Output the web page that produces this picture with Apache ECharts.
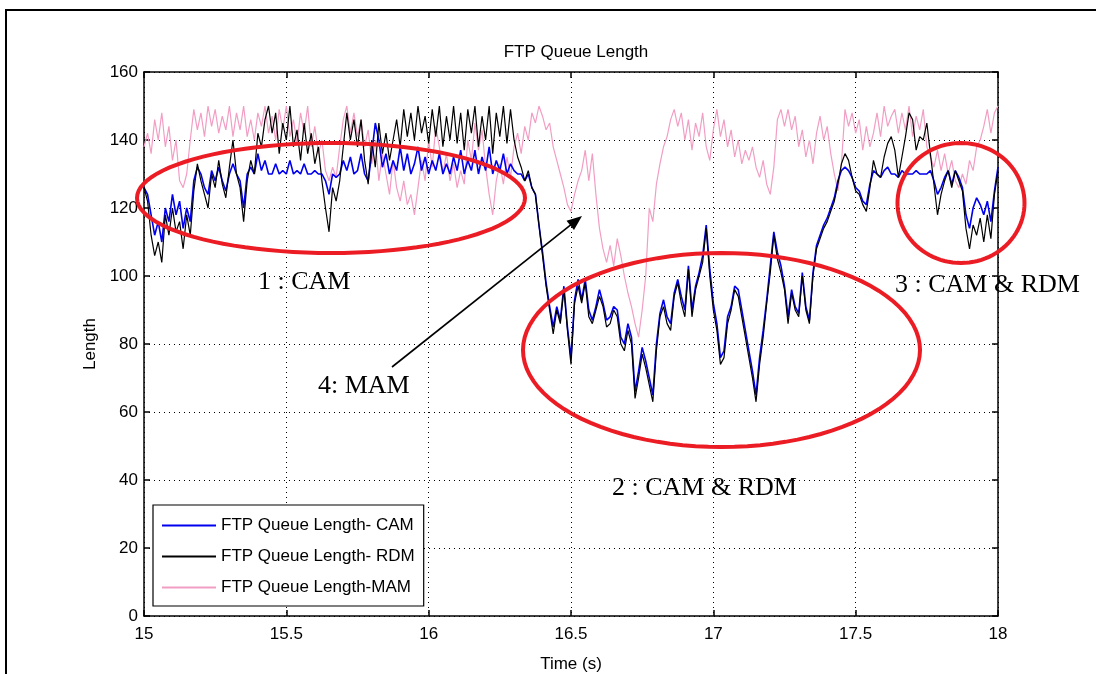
<!DOCTYPE html>
<html><head><meta charset="utf-8">
<script src="https://cdn.jsdelivr.net/npm/echarts@6/dist/echarts.min.js"></script>
<style>html,body{margin:0;padding:0;background:#fff}#c{width:1096px;height:674px}</style>
</head><body><div id="c"></div><script>
// ---- data ----
const times = [
 15,15.0125,15.025,15.0375,15.05,15.0625,15.075,15.0875,
 15.1,15.1125,15.125,15.1375,15.15,15.1625,15.175,15.1875,
 15.2,15.2125,15.225,15.2375,15.25,15.2625,15.275,15.2875,
 15.3,15.3125,15.325,15.3375,15.35,15.3625,15.375,15.3875,
 15.4,15.4125,15.425,15.4375,15.45,15.4625,15.475,15.4875,
 15.5,15.5125,15.525,15.5375,15.55,15.5625,15.575,15.5875,
 15.6,15.6125,15.625,15.6375,15.65,15.6625,15.675,15.6875,
 15.7,15.7125,15.725,15.7375,15.75,15.7625,15.775,15.7875,
 15.8,15.8125,15.825,15.8375,15.85,15.8625,15.875,15.8875,
 15.9,15.9125,15.925,15.9375,15.95,15.9625,15.975,15.9875,
 16,16.0125,16.025,16.0375,16.05,16.0625,16.075,16.0875,
 16.1,16.1125,16.125,16.1375,16.15,16.1625,16.175,16.1875,
 16.2,16.2125,16.225,16.2375,16.25,16.2625,16.275,16.2875,
 16.3,16.3125,16.325,16.3375,16.35,16.3625,16.375,16.3875,
 16.4,16.4125,16.425,16.4375,16.45,16.4625,16.475,16.4875,
 16.5,16.5125,16.525,16.5375,16.55,16.5625,16.575,16.5875,
 16.6,16.6125,16.625,16.6375,16.65,16.6625,16.675,16.6875,
 16.7,16.7125,16.725,16.7375,16.75,16.7625,16.775,16.7875,
 16.8,16.8125,16.825,16.8375,16.85,16.8625,16.875,16.8875,
 16.9,16.9125,16.925,16.9375,16.95,16.9625,16.975,16.9875,
 17,17.0125,17.025,17.0375,17.05,17.0625,17.075,17.0875,
 17.1,17.1125,17.125,17.1375,17.15,17.1625,17.175,17.1875,
 17.2,17.2125,17.225,17.2375,17.25,17.2625,17.275,17.2875,
 17.3,17.3125,17.325,17.3375,17.35,17.3625,17.375,17.3875,
 17.4,17.4125,17.425,17.4375,17.45,17.4625,17.475,17.4875,
 17.5,17.5125,17.525,17.5375,17.55,17.5625,17.575,17.5875,
 17.6,17.6125,17.625,17.6375,17.65,17.6625,17.675,17.6875,
 17.7,17.7125,17.725,17.7375,17.75,17.7625,17.775,17.7875,
 17.8,17.8125,17.825,17.8375,17.85,17.8625,17.875,17.8875,
 17.9,17.9125,17.925,17.9375,17.95,17.9625,17.975,17.9875,
 18];
const camValues = [
 126,124,118,112,116,110,120,116,124,118, 122,114,120,116,128,132,130,126,124,131,
 128,132,128,125,130,133,130,128,120,130, 132,130,136,131,134,130,130,133,130,131,
 130,134,130,131,130,133,130,130,131,130, 130,128,124,130,129,130,134,131,135,130,
 131,136,130,128,136,145,140,132,136,130, 134,131,138,131,136,130,133,138,131,135,
 130,134,131,136,130,133,130,135,131,137, 130,134,131,137,130,135,131,138,130,134,
 131,136,130,133,131,130,130,128,130,126, 124,115,107,98,91,85,91,87,97,85,
 76,93,99,93,99,90,87,91,96,92, 87,88,91,90,82,80,86,82,66,72,
 79,75,70,65,80,89,93,88,86,95, 99,94,90,103,90,97,101,106,115,102,
 92,86,76,78,88,91,97,96,90,84, 78,72,65,76,84,93,103,113,107,103,
 97,88,96,91,89,101,91,87,101,109, 112,115,117,120,123,128,131,132,131,129,
 126,125,122,121,127,131,130,129,131,132, 130,130,129,131,130,130,130,131,130,130,
 130,131,128,124,126,129,131,127,131,129, 126,118,114,120,123,121,118,122,116,125,
 132];
const rdmValues = [
 126,122,112,106,110,104,118,112,120,113, 116,108,118,112,125,133,128,124,120,130,
 126,134,127,123,132,140,130,126,116,128, 134,130,142,138,146,150,142,148,136,145,
 140,150,138,143,134,145,136,142,133,138, 128,120,113,126,122,128,138,148,140,146,
 138,146,134,127,140,132,145,136,142,134, 140,146,138,149,141,148,140,150,142,147,
 139,149,141,150,138,147,140,150,139,148, 137,149,142,150,138,147,140,150,136,148,
 141,150,139,149,140,135,132,128,131,126, 124,115,106,97,90,83,90,86,96,84,
 74,92,97,92,98,88,86,90,94,91, 85,86,90,88,80,78,84,80,64,70,
 77,73,68,63,78,88,91,86,84,94, 98,92,88,102,88,96,100,104,114,100,
 90,84,74,76,86,90,96,94,88,82, 76,70,63,74,82,92,101,112,105,101,
 96,86,95,90,88,100,90,86,100,108, 111,114,116,119,122,127,133,136,134,129,
 125,124,121,119,126,134,130,129,135,139, 141,137,129,135,141,148,146,137,141,140,
 145,136,127,118,124,128,131,126,131,128, 125,114,108,115,112,117,110,118,111,124,
 131];
const mamValues = [
 138,142,136,146,140,148,138,144,134,140, 128,126,130,140,149,143,148,141,150,144,
 149,142,147,143,150,141,148,143,150,141, 146,140,148,144,150,142,147,140,149,143,
 150,141,146,139,148,142,150,138,144,136, 140,131,128,132,129,138,146,150,142,148,
 141,146,138,143,133,140,128,136,130,124, 134,126,122,128,121,124,118,126,134,128,
 140,132,144,138,130,136,128,133,126,131, 127,140,134,145,137,143,132,124,118,128,
 133,127,135,129,138,142,136,144,140,148, 145,150,147,143,145,138,134,130,126,121,
 119,124,128,131,137,128,136,124,114,108, 104,109,103,111,106,100,95,91,86,82,
 90,100,120,116,127,133,138,141,146,149, 144,148,140,146,137,145,141,148,138,134,
 143,149,141,146,138,143,135,140,133,137, 134,138,132,129,134,127,124,132,146,149,
 144,149,143,147,138,143,135,140,133,142, 147,140,144,136,130,125,133,149,144,148,
 142,146,137,144,138,142,148,141,150,144, 147,149,142,148,143,150,141,147,143,149,
 138,135,132,137,131,136,130,134,128,126, 130,127,134,131,138,140,144,149,142,148,
 150];
const seriesNames = ['FTP Queue Length- CAM','FTP Queue Length- RDM','FTP Queue Length-MAM'];
const xTicks = {min:15, max:18, interval:0.5};
const yTicks = {min:0, max:160, interval:20};

const SANS = "'Liberation Sans', Arial, Helvetica, sans-serif";
const FS = 17;
const SERIF = "'Liberation Serif', 'Times New Roman', serif";

const pairs = vals => times.map((t,i)=>[t, vals[i]]);

function ell(cx, cy, rx, ry){
  const pts=[]; for(let k=0;k<96;k++){const a=k/96*2*Math.PI; pts.push([cx+rx*Math.cos(a), cy+ry*Math.sin(a)]);} return pts;
}
const RED = '#ec1c24';
const tip=[582,216], tail=[392,367];
const dx=tip[0]-tail[0], dy=tip[1]-tail[1], L=Math.hypot(dx,dy), ux=dx/L, uy=dy/L;
const hl=15, hw=6;
const head=[tip,[tip[0]-ux*hl-uy*hw, tip[1]-uy*hl+ux*hw],[tip[0]-ux*hl+uy*hw, tip[1]-uy*hl-ux*hw]];

const axisCommon = {
  axisLine:{show:true, onZero:false, lineStyle:{color:'#000', width:1.5}},
  axisTick:{show:true, inside:true, length:6, lineStyle:{color:'#000', width:1.5}},
};
const chart = echarts.init(document.getElementById('c'));
chart.setOption({
  animation:false,
  backgroundColor:'#fff',
  title:{text:'FTP Queue Length', left:571, textAlign:'center', top:39,
    textStyle:{fontFamily:SANS, fontSize:FS, fontWeight:'normal', color:'#000'}},
  grid:{left:144, right:98, top:72, bottom:58, containLabel:false, outerBoundsMode:'none'},
  legend:{
    data:seriesNames, orient:'vertical', left:153, top:505,
    backgroundColor:'#fff', borderColor:'#000', borderWidth:1.2,
    padding:[12,9,10,9], itemGap:14, itemWidth:54, itemHeight:2, icon:'rect',
    textStyle:{fontFamily:SANS, fontSize:FS, color:'#000'}
  },
  xAxis:[
    Object.assign({type:'value', min:xTicks.min, max:xTicks.max, interval:xTicks.interval,
      name:'Time (s)', nameLocation:'middle', nameGap:40,
      nameTextStyle:{fontFamily:SANS, fontSize:FS, color:'#000'},
      axisLabel:{fontFamily:SANS, fontSize:FS, color:'#000', margin:10},
      splitLine:{show:true, lineStyle:{color:'#000', type:[1,4], width:1}}}, axisCommon),
    Object.assign({type:'value', position:'top', min:xTicks.min, max:xTicks.max, interval:xTicks.interval,
      axisLabel:{show:false}, splitLine:{show:false}}, axisCommon)
  ],
  yAxis:[
    Object.assign({type:'value', min:yTicks.min, max:yTicks.max, interval:yTicks.interval,
      name:'Length', nameLocation:'middle', nameGap:43, nameRotate:90,
      nameTextStyle:{fontFamily:SANS, fontSize:FS, color:'#000'},
      axisLabel:{fontFamily:SANS, fontSize:FS, color:'#000', margin:6},
      splitLine:{show:true, lineStyle:{color:'#000', type:[1,4], width:1}}}, axisCommon),
    Object.assign({type:'value', position:'right', min:yTicks.min, max:yTicks.max, interval:yTicks.interval,
      axisLabel:{show:false}, splitLine:{show:false}}, axisCommon)
  ],
  series:[
    {name:seriesNames[2], type:'line', data:pairs(mamValues), showSymbol:false, symbol:'none',
      lineStyle:{color:'#f29ec4', width:1.2}, itemStyle:{color:'#f29ec4'}, z:2},
    {name:seriesNames[0], type:'line', data:pairs(camValues), showSymbol:false, symbol:'none',
      lineStyle:{color:'#0000ee', width:1.6}, itemStyle:{color:'#0000ee'}, z:3},
    {name:seriesNames[1], type:'line', data:pairs(rdmValues), showSymbol:false, symbol:'none',
      lineStyle:{color:'#000', width:1.2}, itemStyle:{color:'#000'}, z:4}
  ],
  graphic:[
    {type:'rect', shape:{x:6, y:10, width:1300, height:900}, style:{fill:'none', stroke:'#000', lineWidth:2}, z:-1, silent:true},
    {type:'polygon', shape:{points:ell(331,198,194,55)}, style:{fill:'none', stroke:RED, lineWidth:4}, z:100},
    {type:'polygon', shape:{points:ell(721.5,350,198.5,97)}, style:{fill:'none', stroke:RED, lineWidth:4}, z:100},
    {type:'polygon', shape:{points:ell(961,203,63.5,60)}, style:{fill:'none', stroke:RED, lineWidth:4}, z:100},
    {type:'line', shape:{x1:tail[0], y1:tail[1], x2:tip[0]-ux*10, y2:tip[1]-uy*10}, style:{stroke:'#000', lineWidth:1.6}, z:100},
    {type:'polygon', shape:{points:head}, style:{fill:'#000'}, z:100},
    {type:'text', x:258, y:282, style:{text:'1 : CAM', font:'26px '+SERIF, fill:'#000', textVerticalAlign:'middle'}, z:100},
    {type:'text', x:318, y:386, style:{text:'4: MAM', font:'26px '+SERIF, fill:'#000', textVerticalAlign:'middle'}, z:100},
    {type:'text', x:612, y:488, style:{text:'2 : CAM & RDM', font:'26px '+SERIF, fill:'#000', textVerticalAlign:'middle'}, z:100},
    {type:'text', x:895, y:285, style:{text:'3 : CAM & RDM', font:'26px '+SERIF, fill:'#000', textVerticalAlign:'middle'}, z:100}
  ]
});
</script></body></html>
